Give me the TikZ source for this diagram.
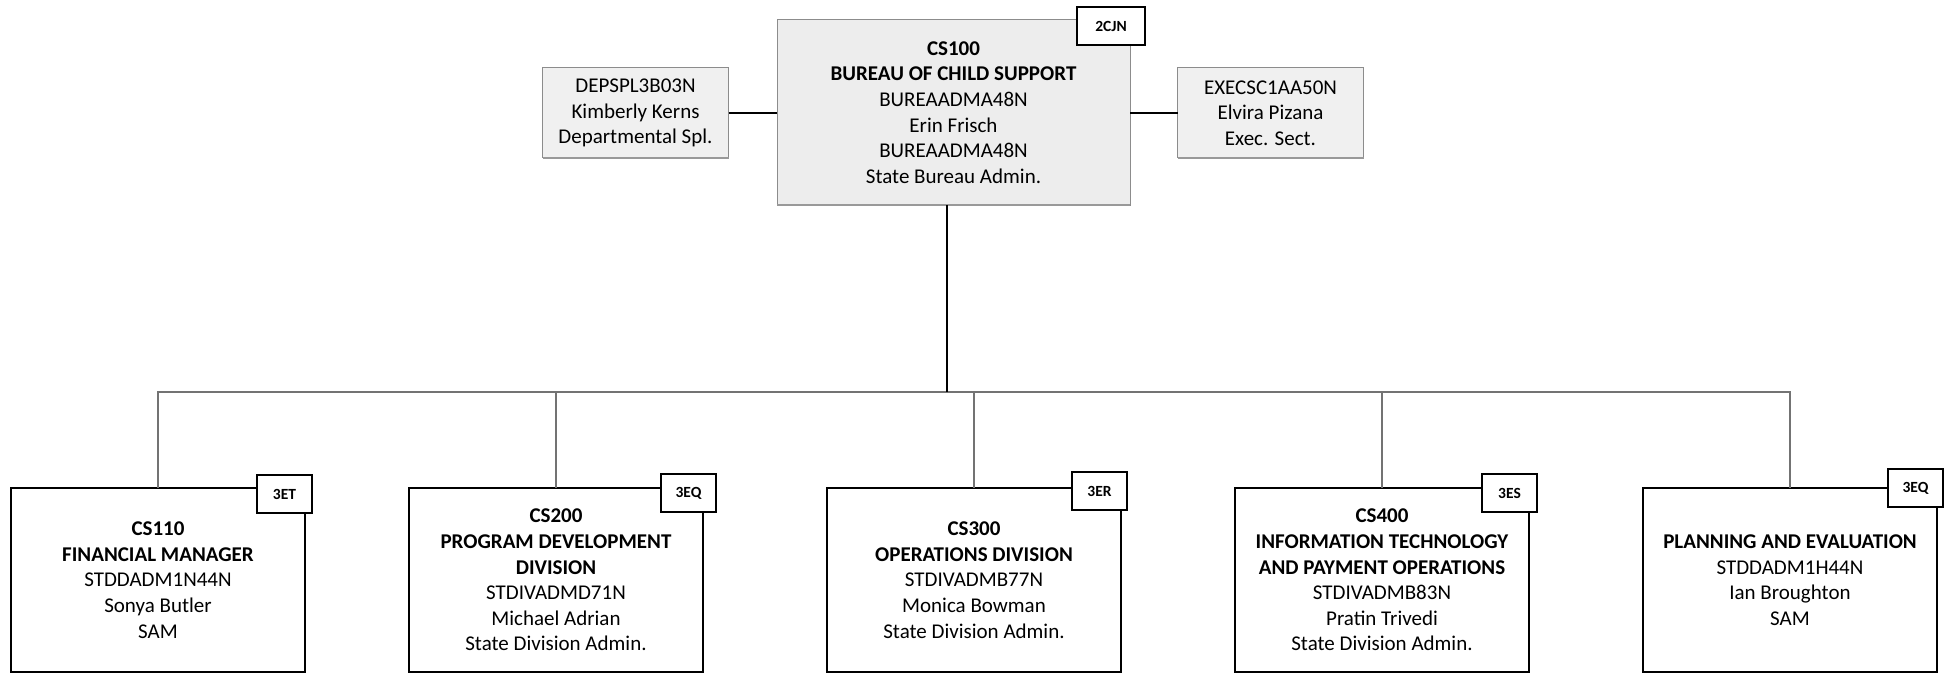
\documentclass[tikz,border=0pt]{standalone}
\usepackage{fontspec}
\setmainfont{Carlito}
\begin{document}
\begin{tikzpicture}[x=1pt,y=-1pt,
  every node/.style={inner sep=0pt, outer sep=0pt, align=center, font=\fontsize{21}{25.6}\selectfont},
  topbox/.style={draw=black!45, fill=black!7, line width=1pt, minimum width=353pt, minimum height=185pt},
  sidebox/.style={draw=black!45, fill=black!6, line width=1pt, minimum width=186pt, minimum height=90pt},
  unitbox/.style={draw=black, fill=white, line width=2pt, minimum width=294pt, minimum height=184pt},
  tagbox/.style={draw=black, fill=white, line width=2pt, minimum width=55pt, minimum height=38pt, anchor=north east, font=\fontsize{15.5}{17}\selectfont\bfseries},
  trunk/.style={line width=2pt, black},
  branch/.style={line width=1.4pt, black!55},
  side/.style={line width=1.8pt, black},
  shadowline/.style={line width=2.5pt, black!40}]
\useasboundingbox (0,0) rectangle (1949,674);

% top level
\node[topbox] (main) at (953.5,112.5) {\textbf{CS100}\\\textbf{BUREAU OF CHILD SUPPORT}\\BUREAADMA48N\\Erin Frisch\\BUREAADMA48N\\State Bureau Admin.};
\node[sidebox] (lbox) at (635.5,113) {DEPSPL3B03N\\Kimberly Kerns\\Departmental Spl.};
\node[sidebox] (rbox) at (1270.5,113) {EXECSC1AA50N\\Elvira Pizana\\Exec. Sect.};
\draw[shadowline] (main.south west) -- (main.south east);
\draw[shadowline, line width=1.5pt] (lbox.south west) -- (lbox.south east);
\draw[shadowline, line width=1.5pt] (rbox.south west) -- (rbox.south east);
\node[tagbox, minimum width=68pt] (t0) at (1145,7) {2CJN};

% units
\node[unitbox] (c1) at (158,580) {\textbf{CS110}\\\textbf{FINANCIAL MANAGER}\\STDDADM1N44N\\Sonya Butler\\SAM};
\node[unitbox] (c2) at (556,580) {\textbf{CS200}\\\textbf{PROGRAM DEVELOPMENT}\\\textbf{DIVISION}\\STDIVADMD71N\\Michael Adrian\\State Division Admin.};
\node[unitbox] (c3) at (974,580) {\textbf{CS300}\\\textbf{OPERATIONS DIVISION}\\STDIVADMB77N\\Monica Bowman\\State Division Admin.};
\node[unitbox] (c4) at (1382,580) {\textbf{CS400}\\\textbf{INFORMATION TECHNOLOGY}\\\textbf{AND PAYMENT OPERATIONS}\\STDIVADMB83N\\Pratin Trivedi\\State Division Admin.};
\node[unitbox] (c5) at (1790,580) {\textbf{PLANNING AND EVALUATION}\\STDDADM1H44N\\Ian Broughton\\SAM};

\node[tagbox] (t1) at (312,475) {3ET};
\node[tagbox] (t2) at (716,474) {3EQ};
\node[tagbox] (t3) at (1127,472) {3ER};
\node[tagbox] (t4) at (1537,474) {3ES};
\node[tagbox] (t5) at (1943,469) {3EQ};

% connectors
\coordinate (j) at (947,392);
\draw[side] (lbox.east) -- (lbox.east -| main.west);
\draw[side] (rbox.west) -- (rbox.west -| main.east);
\draw[branch] (j) -| (c1.north);
\draw[branch] (j) -| (c2.north);
\draw[branch] (j) -| (c3.north);
\draw[branch] (j) -| (c4.north);
\draw[branch] (j) -| (c5.north);
\draw[trunk] (main.south -| j) -- (j);
\end{tikzpicture}
\end{document}
